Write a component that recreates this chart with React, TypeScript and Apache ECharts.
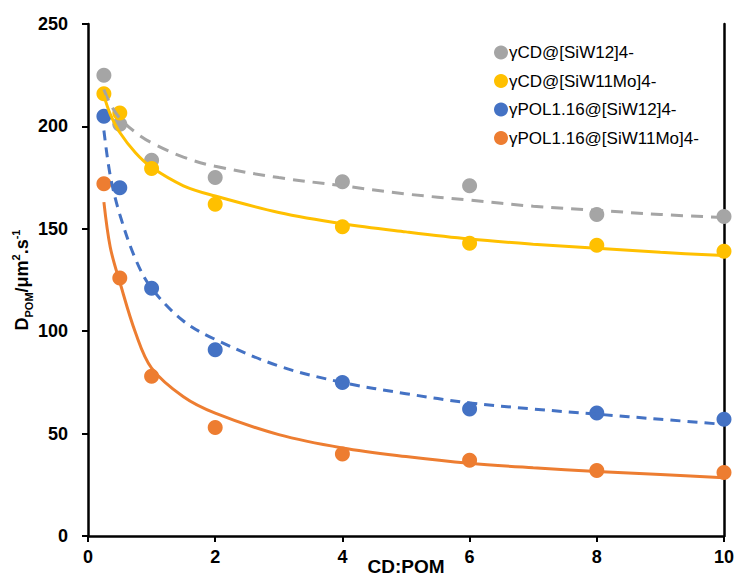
import React, { useEffect, useRef } from "react";
import * as echarts from "echarts";

const seriesNames = [
  "γCD@[SiW12]4-",
  "γCD@[SiW11Mo]4-",
  "γPOL1.16@[SiW12]4-",
  "γPOL1.16@[SiW11Mo]4-",
];
const colors = ["#A5A5A5", "#FFC000", "#4472C4", "#ED7D31"];

// measured points
const ratioX = [0.25, 0.5, 1, 2, 4, 6, 8, 10];
const grayPts = [225, 201, 183.5, 175, 173, 171, 157, 156];
const yellowPts = [216, 206.5, 179.5, 162, 151, 143, 142, 139];
const bluePts = [205, 170, 121, 91, 75, 62, 60, 57];
const orangePts = [172, 126, 78, 53, 40, 37, 32, 31];

// trend curves
const curveX = [0.25, 0.35, 0.5, 0.75, 1, 1.5, 2, 3, 4, 5, 6, 7, 8, 9, 10];
const grayCurve = [218, 211, 204, 197, 192, 185, 180.5, 175, 171, 167, 164, 161, 159, 157, 155.5];
const yellowCurve = [215, 206, 197, 187, 180, 171, 166, 158, 152.5, 148.5, 145, 142.5, 140.5, 138.5, 137];
const blueCurve = [198, 176, 157, 135, 121, 105, 96, 83, 75, 69.5, 65, 62, 59.5, 57, 54.5];
const orangeCurve = [163, 141, 124, 99, 82, 68, 60, 49.5, 43, 38.8, 35.5, 33.3, 31.5, 30, 28.5];

const xTicks = { min: 0, max: 10, interval: 2 };
const yTicks = { min: 0, max: 250, interval: 50 };

const FONT = "'Liberation Sans', Arial, sans-serif";

export default function App() {
  const ref = useRef<HTMLDivElement>(null);
  useEffect(() => {
    if (!ref.current) return;
    const chart = echarts.init(ref.current, null, { renderer: "svg", width: 736, height: 576 });
    const pts = [grayPts, yellowPts, bluePts, orangePts];
    const curves = [grayCurve, yellowCurve, blueCurve, orangeCurve];
    const dashed = [[12, 8], null, [10, 7], null];
    const zip = (xs: number[], ys: number[]) => xs.map((x, i) => [x, ys[i]]);
    const scatterSeries = pts.map((p, i) => ({
      name: seriesNames[i],
      type: "scatter",
      data: zip(ratioX, p),
      symbol: "circle",
      symbolSize: 15,
      itemStyle: { color: colors[i], opacity: 1 },
      z: 2,
    }));
    const lineSeries = curves.map((c, i) => ({
      name: "trend" + i,
      type: "line",
      data: zip(curveX, c),
      smooth: 0.35,
      symbol: "none",
      lineStyle: {
        color: colors[i],
        width: 3,
        type: dashed[i] ? dashed[i] : "solid",
      },
      z: 3,
    }));
    const axisLine = { show: true, lineStyle: { color: "#000", width: 2.5 } };
    chart.setOption({
      animation: false,
      backgroundColor: "#fff",
      grid: {
        left: 88,
        right: 12,
        top: 24,
        bottom: 40,
        containLabel: false,
        outerBoundsMode: "none",
      },
      legend: {
        data: seriesNames,
        orient: "vertical",
        left: 489,
        top: 39,
        itemGap: 11.5,
        itemWidth: 14,
        itemHeight: 14,
        icon: "circle",
        textStyle: { fontFamily: FONT, fontSize: 17, color: "#000", padding: [0, 0, 0, -4] },
      },
      xAxis: {
        type: "value",
        ...xTicks,
        name: "CD:POM",
        nameLocation: "middle",
        nameGap: 21,
        nameMoveOverlap: false,
        nameTextStyle: { fontFamily: FONT, fontSize: 19, fontWeight: "bold", color: "#000" },
        axisLine,
        axisTick: { show: true, inside: false, length: 6, lineStyle: { color: "#000", width: 2 } },
        axisLabel: { fontFamily: FONT, fontSize: 18, fontWeight: "bold", color: "#000", margin: 12 },
        splitLine: { show: false },
      },
      yAxis: [
        {
          type: "value",
          ...yTicks,
          name: "{m|D}{s|POM}{m|/μm}{p|2}{m|.s}{p|-1}",
          nameLocation: "middle",
          nameGap: 54,
          nameMoveOverlap: false,
          nameRotate: 90,
          nameTextStyle: {
            fontFamily: FONT,
            color: "#000",
            rich: {
              m: { fontFamily: FONT, fontSize: 18, fontWeight: "bold", color: "#000", lineHeight: 24, verticalAlign: "middle" },
              s: { fontFamily: FONT, fontSize: 11, fontWeight: "bold", color: "#000", verticalAlign: "bottom" },
              p: { fontFamily: FONT, fontSize: 11, fontWeight: "bold", color: "#000", verticalAlign: "top" },
            },
          },
          axisLine,
          axisTick: { show: true, inside: false, length: 6, lineStyle: { color: "#000", width: 2 } },
          axisLabel: { fontFamily: FONT, fontSize: 18, fontWeight: "bold", color: "#000", margin: 20 },
          splitLine: { show: false },
        },
        {
          type: "value",
          ...yTicks,
          position: "right",
          axisLine,
          axisTick: { show: false },
          axisLabel: { show: false },
          splitLine: { show: false },
        },
      ],
      series: [...scatterSeries, ...lineSeries],
    });
    return () => chart.dispose();
  }, []);
  return (
    <div
      ref={ref}
      style={{ position: "fixed", left: 0, top: 0, width: 736, height: 576, overflow: "hidden" }}
    />
  );
}
